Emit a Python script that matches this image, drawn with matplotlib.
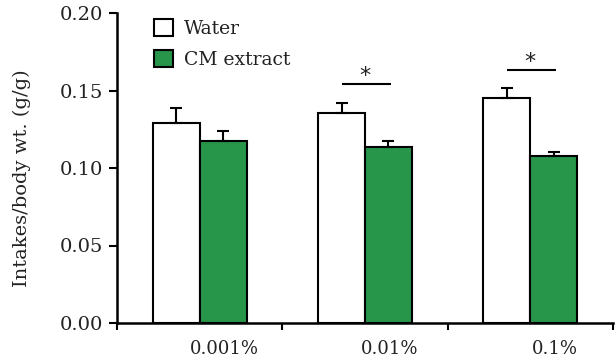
import matplotlib
matplotlib.use("Agg")
import matplotlib.pyplot as plt
import numpy as np

categories = ["0.001%", "0.01%", "0.1%"]
water = [0.129, 0.1357, 0.1454]
water_err = [0.0097, 0.0063, 0.0064]
cm = [0.1176, 0.1135, 0.1077]
cm_err = [0.0064, 0.0041, 0.0028]
sig_idx = [1, 2]
sig_line_y = [0.154, 0.163]

green = "#27954a"
plt.rcParams['font.family'] = ['DejaVu Serif']

fig = plt.figure(figsize=(6.16, 3.61), dpi=100)
ax = fig.add_axes([117/616, 1-323/361, (613-117)/616, (323-13)/361])

x = np.arange(len(categories))
w = 0.284
err_kw = dict(ecolor='black', elinewidth=1.5, capthick=1.5, capsize=4.5)
ax.bar(x - w/2, water, w, color='white', edgecolor='black', linewidth=1.5,
       yerr=[np.zeros(3), water_err], error_kw=err_kw, label='Water', zorder=2)
ax.bar(x + w/2, cm, w, color=green, edgecolor='black', linewidth=1.5,
       yerr=[np.zeros(3), cm_err], error_kw=err_kw, label='CM extract', zorder=2)

for i, yy in zip(sig_idx, sig_line_y):
    ax.plot([i - 0.142, i + 0.156], [yy, yy], color='black', lw=1.5, solid_capstyle='butt')
    ax.text(i, yy - 0.0008, "*", ha='center', va='bottom', fontsize=16,
            family='DejaVu Sans', color='#222222')

ax.set_xlim(-0.5, 2.5)
ax.set_ylim(0, 0.2)
ax.set_yticks([0, 0.05, 0.10, 0.15, 0.20])
ax.set_yticklabels(["0.00", "0.05", "0.10", "0.15", "0.20"], fontsize=14, color='#222222')
ax.set_xticks([-0.5, 0.5, 1.5, 2.5])
ax.set_xticklabels([])
ax.set_xticks(x + 0.15, minor=True)
ax.set_xticklabels(categories, minor=True, fontsize=13, color='#222222')
ax.tick_params(axis='x', which='minor', length=0, pad=12)
ax.tick_params(axis='x', which='major', length=5, width=1.5)
ax.tick_params(axis='y', length=6, width=1.5, pad=4)
for s in ['top', 'right']:
    ax.spines[s].set_visible(False)
for s in ['left', 'bottom']:
    ax.spines[s].set_linewidth(1.8)
ax.spines['left'].set_bounds(0, 0.2)

ax.set_ylabel("Intakes/body wt. (g/g)", fontsize=14, color='#222222',
              va='center', ha='center')
ax.yaxis.set_label_coords(-0.1915, 0.468)

leg = ax.legend(loc='upper left', bbox_to_anchor=(0.06, 1.005), frameon=False,
                fontsize=13.5, handlelength=1.0, handleheight=1.05,
                labelspacing=0.62, handletextpad=0.6, borderaxespad=0,
                labelcolor='#222222')

fig.savefig("out.png", dpi=100)
